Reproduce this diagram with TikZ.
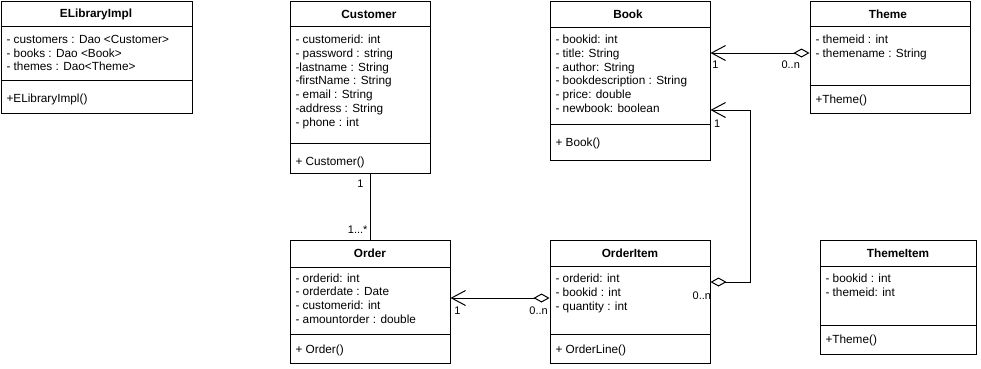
\documentclass[tikz,border=0pt]{standalone}
\usepackage{fontspec}
\setmainfont{Liberation Sans}
\usetikzlibrary{arrows.meta}

\begin{document}
\begin{tikzpicture}[x=1pt,y=-1pt,line width=1pt,
    font=\fontsize{11.8}{13.8}\selectfont,
    lbl/.style={font=\fontsize{11}{13}\selectfont,inner sep=1pt},
    agg/.style={{Diamond[open,length=16pt,width=9pt]}-{Straight Barb[length=14pt,width=15pt]}}]

  \useasboundingbox (0,0) rectangle (981,368);

  \begin{scope}[every node/.style={rectangle,draw,inner sep=0pt}]
    \node[minimum width=191pt,minimum height=112pt] (elib)  at (96.5,57)   {};
    \node[minimum width=140pt,minimum height=172pt] (cust)  at (360,87)    {};
    \node[minimum width=160pt,minimum height=159pt] (book)  at (630,80.5)  {};
    \node[minimum width=160pt,minimum height=112pt] (theme) at (890,57)    {};
    \node[minimum width=160pt,minimum height=123pt] (order) at (370,301.5) {};
    \node[minimum width=160pt,minimum height=123pt] (oitem) at (630,301.5) {};
    \node[minimum width=156pt,minimum height=114pt] (titem) at (898,297)   {};
  \end{scope}

  \draw (elib.west |- 0,26)   -- (elib.east |- 0,26);
  \draw (elib.west |- 0,80)   -- (elib.east |- 0,80);
  \draw (cust.west |- 0,26)   -- (cust.east |- 0,26);
  \draw (cust.west |- 0,143)  -- (cust.east |- 0,143);
  \draw (book.west |- 0,27)   -- (book.east |- 0,27);
  \draw (book.west |- 0,124)  -- (book.east |- 0,124);
  \draw (theme.west |- 0,26)  -- (theme.east |- 0,26);
  \draw (theme.west |- 0,85)  -- (theme.east |- 0,85);
  \draw (order.west |- 0,267) -- (order.east |- 0,267);
  \draw (order.west |- 0,334) -- (order.east |- 0,334);
  \draw (oitem.west |- 0,266) -- (oitem.east |- 0,266);
  \draw (oitem.west |- 0,334) -- (oitem.east |- 0,334);
  \draw (titem.west |- 0,266) -- (titem.east |- 0,266);
  \draw (titem.west |- 0,325) -- (titem.east |- 0,325);

  \begin{scope}[every node/.style={font=\fontsize{11.8}{13.8}\selectfont\bfseries}]
    \node (elib-t)  at (96,14)   {ELibraryImpl};
    \node (cust-t)  at (369,14)  {Customer};
    \node (book-t)  at (628,14)  {Book};
    \node (theme-t) at (888,14)  {Theme};
    \node (order-t) at (370,253) {Order};
    \node (oitem-t) at (630,253) {OrderItem};
    \node (titem-t) at (898,253) {ThemeItem};
  \end{scope}

  \begin{scope}[every node/.style={anchor=north west,align=left,inner sep=0pt}]
    \node (elib-a)  at (6,34.5)    {- customers : Dao <Customer>\\- books : Dao <Book>\\- themes : Dao<Theme>};
    \node (cust-a)  at (295,34.5)  {- customerid: int\\- password : string\\-lastname : String\\-firstName : String\\- email : String\\-address : String\\- phone : int};
    \node (book-a)  at (555,34.5)  {- bookid: int\\- title: String\\- author: String\\- bookdescription : String\\- price: double\\- newbook: boolean};
    \node (theme-a) at (815,34.5)  {- themeid : int\\- themename : String};
    \node (order-a) at (295,273)   {- orderid: int\\- orderdate : Date\\- customerid: int\\- amountorder : double};
    \node (oitem-a) at (555,273.5) {- orderid: int\\- bookid : int\\- quantity : int};
    \node (titem-a) at (825,273.5) {- bookid : int\\- themeid: int};
  \end{scope}

  \begin{scope}[every node/.style={anchor=west,inner sep=0pt}]
    \node (elib-m)  at (6,99)    {+ELibraryImpl()};
    \node (cust-m)  at (295,162) {+ Customer()};
    \node (book-m)  at (555,143) {+ Book()};
    \node (theme-m) at (815,100) {+Theme()};
    \node (order-m) at (295,350) {+ Order()};
    \node (oitem-m) at (555,350) {+ OrderLine()};
    \node (titem-m) at (825,340) {+Theme()};
  \end{scope}

  \coordinate (thm) at ([yshift=4pt]theme.west);
  \coordinate (oit) at ([yshift=3.5pt]oitem.west);
  \coordinate (oib) at ([yshift=19.5pt]oitem.east);
  \coordinate (bko) at ([yshift=-29.5pt]book.east);

  \draw (order.north |- cust.south) -- node[lbl,pos=0.16,left=5pt] (l1) {1}
    node[lbl,pos=0.85,left=1pt] (l2) {1...*} (order.north);
  \draw[agg] (thm) -- node[lbl,pos=0.19,below=6pt] (l3) {0..n}
    node[lbl,pos=0.95,below=6pt] (l4) {1} (thm -| book.east);
  \draw[agg] (oit) -- node[lbl,pos=0.11,below=7pt] (l5) {0..n}
    node[lbl,pos=0.93,below=7pt] (l6) {1} (oit -| order.east);
  \draw[agg] (oib) node[lbl,anchor=north east,xshift=2pt,yshift=-8pt] (l7) {0..n}
    -- ++(40,0) |- (bko) node[lbl,anchor=north west,xshift=2pt,yshift=-8pt] (l8) {1};

\end{tikzpicture}
\end{document}
